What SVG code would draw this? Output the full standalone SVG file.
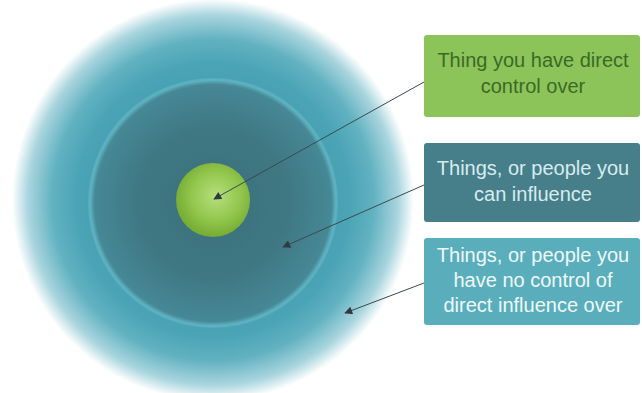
<svg xmlns="http://www.w3.org/2000/svg" width="642" height="393" viewBox="0 0 642 393">
<style>
.t{font-family:"Liberation Sans",Arial,sans-serif;font-size:20px;text-anchor:middle}
.c{stroke:#3a4a4e;stroke-width:1;fill:none;marker-end:url(#ah)}
</style>
<defs>
<radialGradient id="gOuter" cx="213" cy="200" r="201" gradientUnits="userSpaceOnUse">
<stop offset="0.55" stop-color="#48a0b2"/>
<stop offset="0.68" stop-color="#4aa4b5"/>
<stop offset="0.8" stop-color="#62b2c1"/>
<stop offset="0.92" stop-color="#a9d5de"/>
<stop offset="1" stop-color="#ffffff"/>
</radialGradient>
<radialGradient id="gMid" cx="213" cy="203" r="126" gradientUnits="userSpaceOnUse">
<stop offset="0" stop-color="#3a6f7a"/>
<stop offset="0.6" stop-color="#3f7883"/>
<stop offset="0.94" stop-color="#468896"/>
<stop offset="0.975" stop-color="#5eb3c2"/>
<stop offset="1" stop-color="#52a8b9"/>
</radialGradient>
<radialGradient id="gIn" cx="216" cy="196" r="40" gradientUnits="userSpaceOnUse">
<stop offset="0" stop-color="#b6df7e"/>
<stop offset="0.6" stop-color="#93c74e"/>
<stop offset="1" stop-color="#78ad36"/>
</radialGradient>
<marker id="ah" viewBox="0 0 10 10" refX="9" refY="5" markerWidth="13" markerHeight="8" orient="auto" markerUnits="userSpaceOnUse">
<path d="M0,0 L10,5 L0,10 z" fill="#2f3b3e"/>
</marker>
</defs>
<rect width="642" height="393" fill="#ffffff"/>
<g id="outer"><circle cx="213" cy="200" r="201" fill="url(#gOuter)"/></g>
<g id="middle"><circle cx="213" cy="203" r="125" fill="url(#gMid)"/></g>
<g id="inner"><circle cx="213" cy="200" r="37" fill="url(#gIn)"/></g>
<g id="box1">
<rect x="424" y="35" width="216" height="82" rx="3" fill="#8cc45a"/>
<text class="t" x="533" y="67" fill="#3b6a25">Thing you have direct</text>
<text class="t" x="533" y="93" fill="#3b6a25">control over</text>
</g>
<g id="box2">
<rect x="424" y="143" width="216" height="79" rx="3" fill="#467f8a"/>
<text class="t" x="533" y="175" fill="#d6ecee">Things, or people you</text>
<text class="t" x="533" y="201" fill="#d6ecee">can influence</text>
</g>
<g id="box3">
<rect x="424" y="238" width="216" height="87" rx="3" fill="#5aaebb"/>
<text class="t" x="533" y="262" fill="#eef8f9">Things, or people you</text>
<text class="t" x="533" y="287" fill="#eef8f9">have no control of</text>
<text class="t" x="533" y="312" fill="#eef8f9">direct influence over</text>
</g>
<g id="connectors">
<line class="c" x1="424" y1="82" x2="214" y2="199"/>
<line class="c" x1="424" y1="185" x2="283" y2="247"/>
<line class="c" x1="424" y1="283" x2="345" y2="313"/>
</g>
</svg>
